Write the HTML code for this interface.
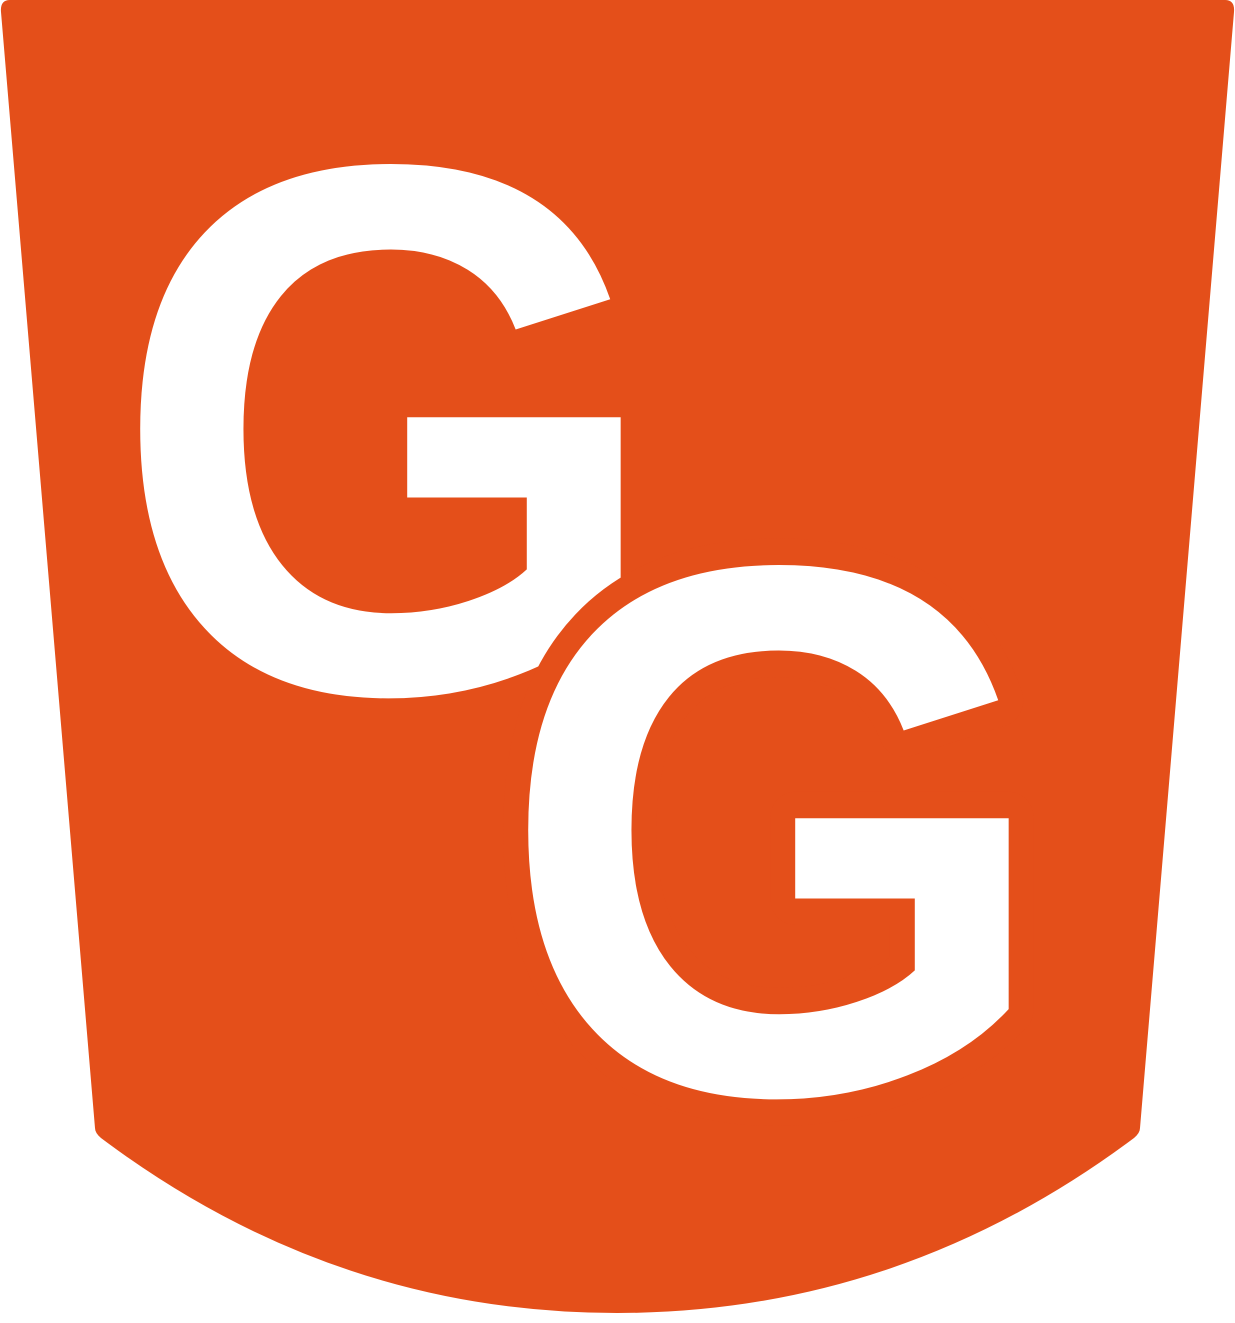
<!DOCTYPE html>
<html><head><meta charset="utf-8"><style>
html,body{margin:0;padding:0;background:#fff;width:1235px;height:1323px;overflow:hidden}
svg{display:block}
</style></head><body>
<svg width="1235" height="1323" viewBox="0 0 1235 1323" xmlns="http://www.w3.org/2000/svg">
  <path fill="#E44F1A"
    d="M10,0 L1225,0 Q1235,0 1234,12 L1140,1128 Q1140,1133 1134,1138 Q900,1313 617,1313 Q334,1313 101,1138 Q95,1133 95,1128 L1,12 Q0,0 10,0 Z"/>
  <g transform="translate(0,691) scale(1,1.06)">
    <text x="111" y="0" font-family="'Liberation Sans', sans-serif" font-weight="bold" font-size="712" fill="#fff">G</text>
  </g>
  <g transform="translate(0,1092) scale(1,1.06)">
    <text x="499" y="0" font-family="'Liberation Sans', sans-serif" font-weight="bold" font-size="712" fill="#fff" stroke="#E44F1A" stroke-width="50" stroke-linejoin="round" paint-order="stroke">G</text>
  </g>
</svg>
</body></html>
